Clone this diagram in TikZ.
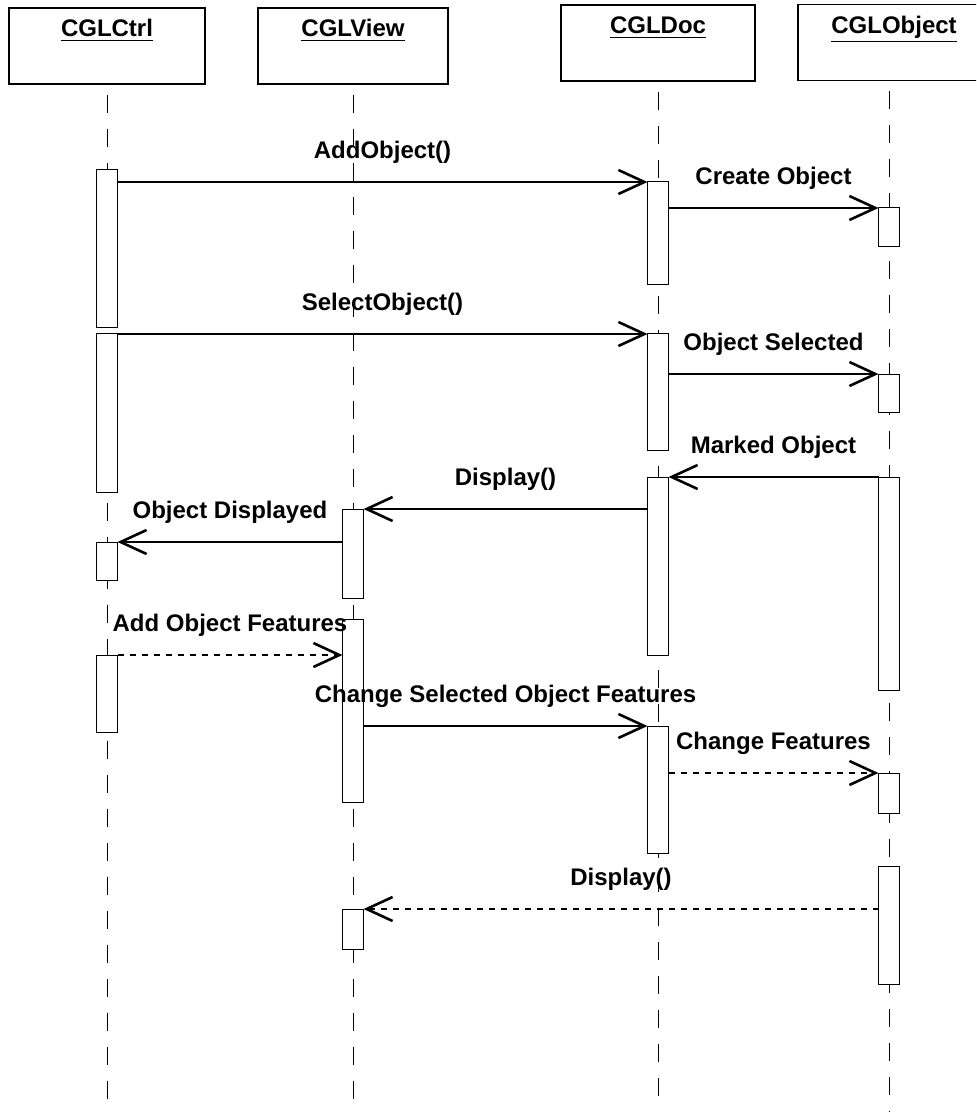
\documentclass[tikz,border=0pt]{standalone}
\usepackage{fontspec}
\setmainfont{Liberation Sans}
\usetikzlibrary{arrows.meta,positioning}

% activation bar: name, x, top, bottom (in px)
\newcommand{\actbar}[4]{%
  \node[act, minimum height={(#4-#3)*0.5pt}] (#1) at (#2,{(#3+#4)/2}) {};}

\begin{document}
\begin{tikzpicture}[x=0.5pt, y=-0.5pt,
    head/.style={rectangle, draw, line width=0.6pt, minimum width=98pt, text height=12.5pt, text depth=21.5pt, inner sep=2pt, font=\bfseries\fontsize{12}{14}\selectfont},
    act/.style={rectangle, draw, fill=white, line width=0.5pt, minimum width=10.5pt, inner sep=0pt, outer sep=0pt},
    life/.style={line width=0.5pt, dash pattern=on 9pt off 8pt},
    msg/.style={-{Straight Barb[length=13pt, width=12pt, line width=1.3pt]}, line width=0.7pt},
    lbl/.style={midway, above=8pt, inner sep=1pt, text height=8.5pt, text depth=2.5pt, font=\bfseries\fontsize{12}{14}\selectfont}
]
    \path[use as bounding box, clip] (0,0) rectangle (976,1112);

    % Objects
    \node[head] (ctrl) at (107,46) {\underline{CGLCtrl}};
    \node[head, minimum width=95pt] (view) at (353,46) {\underline{CGLView}};
    \node[head, minimum width=97pt] (doc) at (658,43) {\underline{CGLDoc}};
    \node[head, minimum width=96pt] (object) at (894,42.5) {\underline{CGLObject}};

    % Lifelines
    \coordinate (ctrlend) at (107,1112);
    \coordinate (viewend) at (353,1112);
    \coordinate (docend) at (658,1112);
    \coordinate (objend) at (889,1112);
    \draw[life, shorten <=5pt] (ctrl.south -| ctrlend) -- (ctrlend);
    \draw[life, shorten <=5pt] (view.south -| viewend) -- (viewend);
    \draw[life, shorten <=5pt] (doc.south -| docend) -- (docend);
    \draw[life, shorten <=5pt] (object.south -| objend) -- (objend);

    % Activations
    \actbar{c1}{107}{170}{328}
    \actbar{c2}{107}{334}{492}
    \actbar{c3}{107}{542}{580}
    \actbar{c4}{107}{655}{732}
    \actbar{v1}{353}{509}{598}
    \actbar{v2}{353}{619}{802}
    \actbar{v3}{353}{909}{949}
    \actbar{d1}{658}{182}{285}
    \actbar{d2}{658}{334}{450}
    \actbar{d3}{658}{477}{655}
    \actbar{d4}{658}{726}{853}
    \actbar{o1}{889}{208}{247}
    \actbar{o2}{889}{374}{412}
    \actbar{o3}{889}{477}{690}
    \actbar{o4}{889}{773}{813}
    \actbar{o5}{889}{866}{984}

    % Messages
    \draw[msg] (c1.east |- d1.north west) -- (d1.north west) node[lbl] {AddObject()};
    \draw[msg] (d1.east |- o1.north west) -- (o1.north west) node[lbl] {Create Object};
    \draw[msg] (c2.east |- d2.north west) -- (d2.north west) node[lbl] {SelectObject()};
    \draw[msg] (d2.east |- o2.north west) -- (o2.north west) node[lbl] {Object Selected};
    \draw[msg] (o3.north west) -- (d3.north east) node[lbl] {Marked Object};
    \draw[msg] (d3.west |- v1.north east) -- (v1.north east) node[lbl] {Display()};
    \draw[msg] (v1.west |- c3.north east) -- (c3.north east) node[lbl] {Object Displayed};
    \draw[msg, dashed] (c4.north east) -- (v2.west |- c4.north east) node[lbl] {Add Object Features};
    \draw[msg] (v2.east |- d4.north west) -- (d4.north west) node[lbl] {Change Selected Object Features};
    \draw[msg, dashed] (d4.east |- o4.north west) -- (o4.north west) node[lbl] {Change Features};
    \draw[msg, dashed] (o5.west |- v3.north east) -- (v3.north east) node[lbl] {Display()};

\end{tikzpicture}
\end{document}
